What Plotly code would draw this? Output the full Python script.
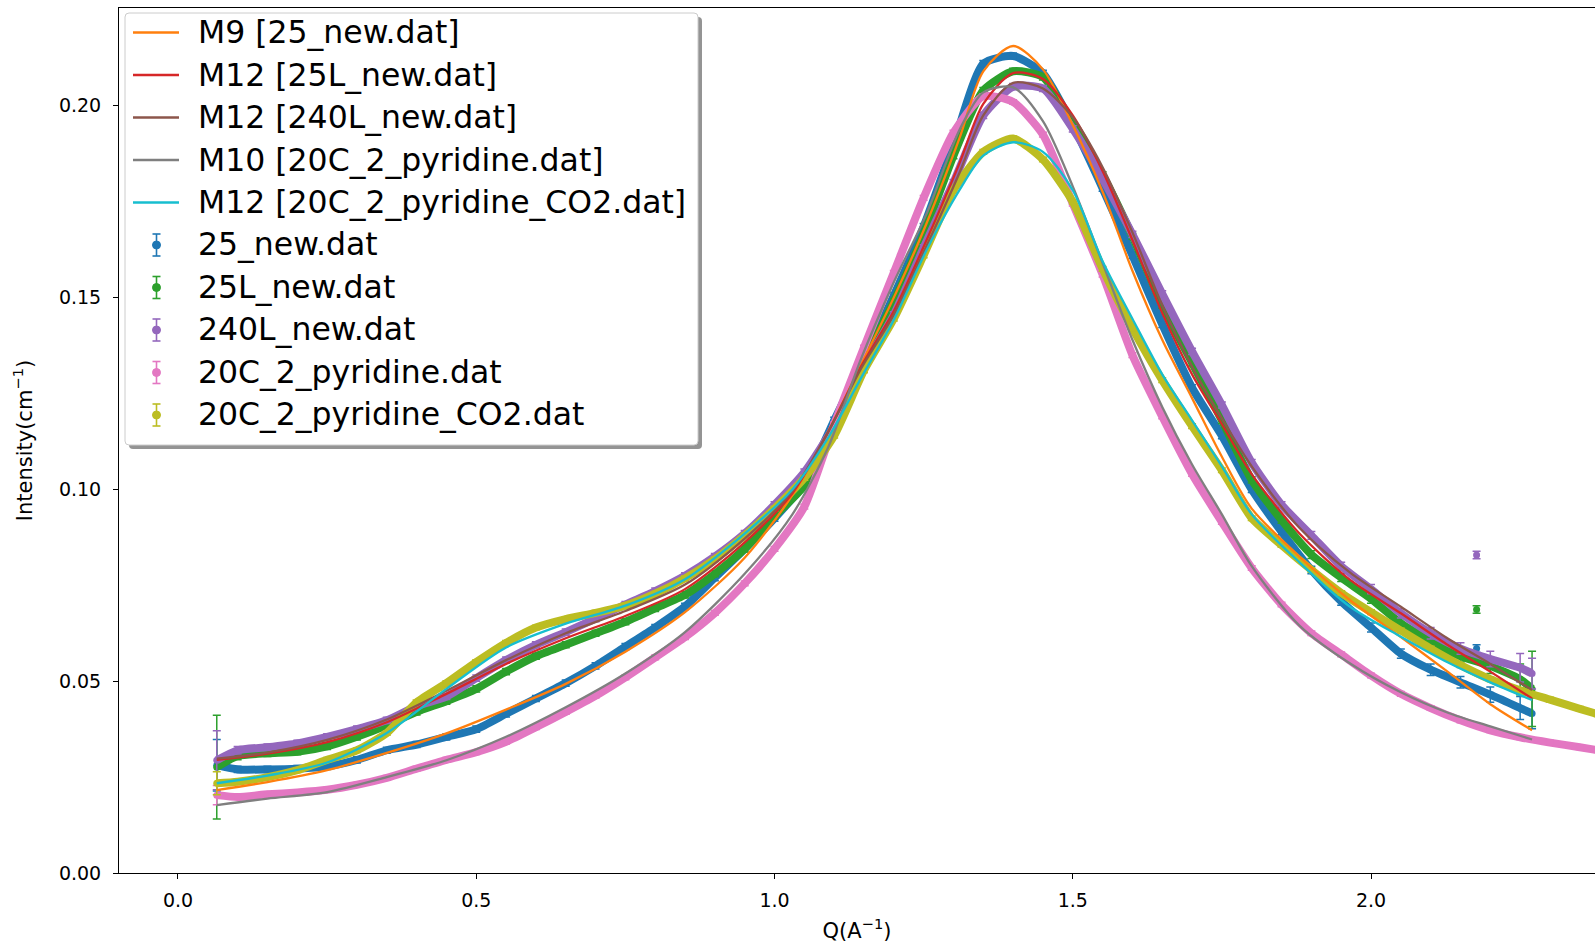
import plotly.graph_objects as go

# ---------------- data ----------------
Q_DATA = [0.065, 0.10, 0.15, 0.20, 0.25, 0.30, 0.35, 0.40, 0.45, 0.50,
          0.55, 0.60, 0.65, 0.70, 0.75, 0.80, 0.85, 0.90, 0.95, 1.00,
          1.05, 1.10, 1.15, 1.20, 1.25, 1.30, 1.35, 1.40, 1.45, 1.50,
          1.55, 1.60, 1.65, 1.70, 1.75, 1.80, 1.85, 1.90, 1.95, 2.00,
          2.05, 2.10, 2.15, 2.20, 2.25, 2.27]

Q_DATA_EXT = [0.065, 0.10, 0.15, 0.20, 0.25, 0.30, 0.35, 0.40, 0.45, 0.50,
              0.55, 0.60, 0.65, 0.70, 0.75, 0.80, 0.85, 0.90, 0.95, 1.00,
              1.05, 1.10, 1.15, 1.20, 1.25, 1.30, 1.35, 1.40, 1.45, 1.50,
              1.55, 1.60, 1.65, 1.70, 1.75, 1.80, 1.85, 1.90, 1.95, 2.00,
              2.05, 2.10, 2.15, 2.20, 2.25, 2.30, 2.35, 2.38]

I_25_NEW = [0.0281, 0.0270, 0.0270, 0.0272, 0.0278, 0.0295, 0.0320, 0.0335, 0.0355, 0.0375,
            0.0415, 0.0455, 0.0495, 0.0540, 0.0590, 0.0640, 0.0695, 0.0770, 0.0845, 0.0925,
            0.1015, 0.1180, 0.1340, 0.1505, 0.1685, 0.1900, 0.2110, 0.2130, 0.2085, 0.1950,
            0.1785, 0.1610, 0.1430, 0.1265, 0.1140, 0.1000, 0.0890, 0.0790, 0.0708, 0.0640,
            0.0572, 0.0530, 0.0497, 0.0465, 0.0430, 0.0416]
E_25_NEW = [0.0067, 0.0008, 0.0008, 0.0008, 0.0008, 0.0008, 0.0008, 0.0008, 0.0008, 0.0008,
            0.0008, 0.0008, 0.0008, 0.0008, 0.0008, 0.0008, 0.0008, 0.0008, 0.0008, 0.0008,
            0.0008, 0.0008, 0.0008, 0.0008, 0.0008, 0.0008, 0.0008, 0.0008, 0.0008, 0.0008,
            0.0008, 0.0008, 0.0008, 0.0008, 0.0008, 0.0008, 0.0008, 0.0010, 0.0010, 0.0012,
            0.0012, 0.0015, 0.0015, 0.0020, 0.0030, 0.0040]

I_25L_NEW = [0.0276, 0.0305, 0.0312, 0.0316, 0.0330, 0.0355, 0.0385, 0.0420, 0.0448, 0.0480,
             0.0525, 0.0565, 0.0595, 0.0625, 0.0655, 0.0690, 0.0725, 0.0780, 0.0845, 0.0930,
             0.1010, 0.1160, 0.1335, 0.1490, 0.1665, 0.1870, 0.2040, 0.2090, 0.2075, 0.1950,
             0.1820, 0.1660, 0.1480, 0.1330, 0.1180, 0.1025, 0.0920, 0.0830, 0.0770, 0.0715,
             0.0651, 0.0605, 0.0565, 0.0540, 0.0505, 0.0480]
E_25L_NEW = [0.0135, 0.0010, 0.0008, 0.0008, 0.0008, 0.0008, 0.0008, 0.0008, 0.0008, 0.0008,
             0.0008, 0.0008, 0.0008, 0.0008, 0.0008, 0.0008, 0.0008, 0.0008, 0.0008, 0.0008,
             0.0008, 0.0008, 0.0008, 0.0008, 0.0008, 0.0008, 0.0008, 0.0008, 0.0008, 0.0008,
             0.0008, 0.0008, 0.0008, 0.0008, 0.0008, 0.0008, 0.0008, 0.0010, 0.0010, 0.0012,
             0.0012, 0.0015, 0.0015, 0.0020, 0.0040, 0.0098]

I_240L_NEW = [0.0294, 0.0320, 0.0328, 0.0338, 0.0355, 0.0375, 0.0398, 0.0435, 0.0460, 0.0508,
              0.0555, 0.0595, 0.0628, 0.0663, 0.0700, 0.0735, 0.0775, 0.0825, 0.0885, 0.0960,
              0.1045, 0.1165, 0.1320, 0.1455, 0.1630, 0.1800, 0.1975, 0.2050, 0.2045, 0.1940,
              0.1810, 0.1665, 0.1510, 0.1360, 0.1220, 0.1070, 0.0960, 0.0880, 0.0800, 0.0740,
              0.0677, 0.0625, 0.0585, 0.0558, 0.0535, 0.0520]
E_240L_NEW = [0.0077, 0.0010, 0.0008, 0.0008, 0.0008, 0.0008, 0.0008, 0.0008, 0.0008, 0.0008,
              0.0008, 0.0008, 0.0008, 0.0008, 0.0008, 0.0008, 0.0008, 0.0008, 0.0008, 0.0008,
              0.0008, 0.0008, 0.0008, 0.0008, 0.0008, 0.0008, 0.0008, 0.0008, 0.0008, 0.0008,
              0.0008, 0.0008, 0.0008, 0.0008, 0.0008, 0.0008, 0.0008, 0.0010, 0.0010, 0.0012,
              0.0012, 0.0015, 0.0015, 0.0020, 0.0037, 0.0040]

I_20C_PYR = [0.0203, 0.0198, 0.0205, 0.0210, 0.0217, 0.0230, 0.0248, 0.0272, 0.0295, 0.0315,
             0.0342, 0.0380, 0.0420, 0.0462, 0.0510, 0.0562, 0.0615, 0.0678, 0.0755, 0.0845,
             0.0955, 0.1170, 0.1370, 0.1565, 0.1760, 0.1930, 0.2025, 0.2010, 0.1925, 0.1745,
             0.1560, 0.1350, 0.1190, 0.1040, 0.0915, 0.0795, 0.0700, 0.0625, 0.0570, 0.0515,
             0.0467, 0.0430, 0.0398, 0.0372, 0.0354, 0.0340, 0.0328, 0.0320]
E_20C_PYR = [0.0025, 0.0006, 0.0006, 0.0006, 0.0006, 0.0006, 0.0006, 0.0006, 0.0006, 0.0006,
             0.0006, 0.0006, 0.0006, 0.0006, 0.0006, 0.0006, 0.0006, 0.0006, 0.0006, 0.0006,
             0.0006, 0.0006, 0.0006, 0.0006, 0.0006, 0.0006, 0.0006, 0.0006, 0.0006, 0.0006,
             0.0006, 0.0006, 0.0006, 0.0006, 0.0006, 0.0006, 0.0006, 0.0006, 0.0006, 0.0006,
             0.0006, 0.0006, 0.0006, 0.0006, 0.0006, 0.0006, 0.0006, 0.0006]

I_20C_PYR_CO2 = [0.0234, 0.0238, 0.0250, 0.0268, 0.0295, 0.0320, 0.0365, 0.0445, 0.0495, 0.0550,
                 0.0600, 0.0640, 0.0662, 0.0678, 0.0697, 0.0728, 0.0768, 0.0818, 0.0880, 0.0950,
                 0.1030, 0.1140, 0.1310, 0.1445, 0.1610, 0.1780, 0.1880, 0.1915, 0.1860, 0.1750,
                 0.1575, 0.1420, 0.1285, 0.1165, 0.1050, 0.0925, 0.0855, 0.0790, 0.0730, 0.0680,
                 0.0632, 0.0585, 0.0542, 0.0505, 0.0476, 0.0452, 0.0428, 0.0414]
E_20C_PYR_CO2 = [0.0030, 0.0006, 0.0006, 0.0006, 0.0006, 0.0006, 0.0006, 0.0006, 0.0006, 0.0006,
                 0.0006, 0.0006, 0.0006, 0.0006, 0.0006, 0.0006, 0.0006, 0.0006, 0.0006, 0.0006,
                 0.0006, 0.0006, 0.0006, 0.0006, 0.0006, 0.0006, 0.0006, 0.0006, 0.0006, 0.0006,
                 0.0006, 0.0006, 0.0006, 0.0006, 0.0006, 0.0006, 0.0006, 0.0006, 0.0006, 0.0006,
                 0.0006, 0.0006, 0.0006, 0.0006, 0.0006, 0.0006, 0.0006, 0.0006]

# isolated points near Q = 2.18
Q_OUTLIER = [2.177]
OUT_25_NEW = [0.0585]
OUT_25L_NEW = [0.0687]
OUT_240L_NEW = [0.0829]
OUT_ERR = [0.0010]

# model fits
Q_FIT = [0.065, 0.15, 0.25, 0.35, 0.45, 0.55, 0.65, 0.75, 0.85, 0.95,
         1.03, 1.09, 1.145, 1.20, 1.255, 1.31, 1.35, 1.40, 1.45, 1.50,
         1.55, 1.60, 1.65, 1.70, 1.75, 1.80, 1.88, 1.965, 2.05, 2.13,
         2.20, 2.27]
FIT_M9_25 = [0.0216, 0.0237, 0.0268, 0.0313, 0.0364, 0.0426, 0.0493, 0.0577, 0.0680, 0.0822,
             0.0985, 0.1150, 0.1325, 0.1500, 0.1694, 0.1915, 0.2090, 0.2156, 0.2095, 0.1950,
             0.1776, 0.1570, 0.1390, 0.1238, 0.1085, 0.0950, 0.0825, 0.0711, 0.0615, 0.0523,
             0.0440, 0.0372]
FIT_M12_25L = [0.0295, 0.0311, 0.0341, 0.0393, 0.0467, 0.0545, 0.0612, 0.0670, 0.0740, 0.0862,
               0.0990, 0.1150, 0.1320, 0.1465, 0.1650, 0.1850, 0.2005, 0.2085, 0.2070, 0.1975,
               0.1830, 0.1650, 0.1460, 0.1300, 0.1170, 0.1040, 0.0885, 0.0764, 0.0677, 0.0593,
               0.0525, 0.0455]
FIT_M12_240L = [0.0298, 0.0314, 0.0347, 0.0400, 0.0475, 0.0555, 0.0625, 0.0683, 0.0752, 0.0872,
                0.0995, 0.1150, 0.1315, 0.1455, 0.1635, 0.1825, 0.1975, 0.2060, 0.2045, 0.1970,
                0.1840, 0.1670, 0.1480, 0.1320, 0.1185, 0.1060, 0.0900, 0.0783, 0.0694, 0.0610,
                0.0545, 0.0477]
FIT_M10_PYR = [0.0177, 0.0194, 0.0211, 0.0250, 0.0294, 0.0355, 0.0432, 0.0520, 0.0628, 0.0780,
               0.0935, 0.1110, 0.1340, 0.1540, 0.1719, 0.1937, 0.2035, 0.2048, 0.1960, 0.1790,
               0.1590, 0.1390, 0.1215, 0.1065, 0.0935, 0.0800, 0.0645, 0.0546, 0.0471, 0.0417,
               0.0382, 0.0348]
FIT_M12_CO2 = [0.0234, 0.0254, 0.0288, 0.0365, 0.0480, 0.0588, 0.0650, 0.0697, 0.0766, 0.0885,
               0.1000, 0.1135, 0.1290, 0.1442, 0.1624, 0.1780, 0.1870, 0.1905, 0.1880, 0.1780,
               0.1595, 0.1445, 0.1300, 0.1180, 0.1060, 0.0935, 0.0810, 0.0694, 0.0616, 0.0548,
               0.0497, 0.0451]

X_TICKS = [0.0, 0.5, 1.0, 1.5, 2.0]
X_TICK_TEXT = ["0.0", "0.5", "1.0", "1.5", "2.0"]
Y_TICKS = [0.00, 0.05, 0.10, 0.15, 0.20]
Y_TICK_TEXT = ["0.00", "0.05", "0.10", "0.15", "0.20"]

# ---------------- figure ----------------
FONT = "DejaVu Sans"
W, H = 1595, 946
ML, MT, MB, MR = 119, 8, 73, 0

data_series = [
    ("25_new.dat", Q_DATA, I_25_NEW, E_25_NEW, "#1f77b4", OUT_25_NEW),
    ("25L_new.dat", Q_DATA, I_25L_NEW, E_25L_NEW, "#2ca02c", OUT_25L_NEW),
    ("240L_new.dat", Q_DATA, I_240L_NEW, E_240L_NEW, "#9467bd", OUT_240L_NEW),
    ("20C_2_pyridine.dat", Q_DATA_EXT, I_20C_PYR, E_20C_PYR, "#e377c2", None),
    ("20C_2_pyridine_CO2.dat", Q_DATA_EXT, I_20C_PYR_CO2, E_20C_PYR_CO2, "#bcbd22", None),
]
fit_series = [
    ("M9 [25_new.dat]", FIT_M9_25, "#ff7f0e"),
    ("M12 [25L_new.dat]", FIT_M12_25L, "#d62728"),
    ("M12 [240L_new.dat]", FIT_M12_240L, "#8c564b"),
    ("M10 [20C_2_pyridine.dat]", FIT_M10_PYR, "#7f7f7f"),
    ("M12 [20C_2_pyridine_CO2.dat]", FIT_M12_CO2, "#17becf"),
]

fig = go.Figure()

for i, (name, qx, iy, err, col, out) in enumerate(data_series):
    # dense band of measured points
    fig.add_trace(go.Scatter(
        x=qx, y=iy, mode="lines",
        line=dict(color=col, width=8, shape="spline", smoothing=0.6),
        showlegend=False, hoverinfo="skip"))
    px = list(qx)
    py = list(iy)
    pe = list(err)
    if out is not None:
        px += Q_OUTLIER
        py += out
        pe += OUT_ERR
    fig.add_trace(go.Scatter(
        x=px, y=py, mode="markers", name=name, showlegend=False,
        marker=dict(color=col, size=7),
        error_y=dict(type="data", array=pe, color=col, thickness=1.5, width=4)))

for i, (name, fyv, col) in enumerate(fit_series):
    fig.add_trace(go.Scatter(
        x=Q_FIT, y=fyv, mode="lines", name=name, showlegend=False,
        line=dict(color=col, width=2.3, shape="spline", smoothing=0.8)))

pw = W - ML - MR
ph = H - MT - MB


def fx(v):
    return (v - ML) / pw


def fy(v):
    return 1 - (v - MT) / ph


# ---------- matplotlib-style legend (box, shadow, glyphs, labels) ----------
BX0, BX1, BY0, BY1, RAD = 125, 698, 13, 445, 4
SH = 4


def rounded_path(x0, y0, x1, y1, r):
    return ("M {a},{b} L {c},{b} Q {d},{b} {d},{e} L {d},{f} Q {d},{g} {c},{g} "
            "L {a},{g} Q {h},{g} {h},{f} L {h},{e} Q {h},{b} {a},{b} Z").format(
        a=fx(x0 + r), b=fy(y0), c=fx(x1 - r), d=fx(x1), e=fy(y0 + r),
        f=fy(y1 - r), g=fy(y1), h=fx(x0))


fig.add_shape(type="path", xref="paper", yref="paper", layer="above",
              path=rounded_path(BX0 + SH, BY0 + SH, BX1 + SH, BY1 + SH, RAD),
              fillcolor="rgba(0,0,0,0.42)", line=dict(width=0))
fig.add_shape(type="path", xref="paper", yref="paper", layer="above",
              path=rounded_path(BX0, BY0, BX1, BY1, RAD),
              fillcolor="white", line=dict(color="#cccccc", width=1))

ROW0, PITCH = 32.5, 42.5
GX0, GX1, GXC, TX = 133, 179, 156.5, 196
entries = [(n, c, "line") for (n, _, c) in fit_series] + \
          [(d[0], d[4], "err") for d in data_series]
annotations = []
for k, (label, col, kind) in enumerate(entries):
    yc = ROW0 + PITCH * k
    if kind == "line":
        fig.add_shape(type="line", xref="paper", yref="paper", layer="above",
                      x0=fx(GX0), x1=fx(GX1), y0=fy(yc), y1=fy(yc),
                      line=dict(color=col, width=2.3))
    else:
        fig.add_shape(type="line", xref="paper", yref="paper", layer="above",
                      x0=fx(GXC), x1=fx(GXC), y0=fy(yc - 11), y1=fy(yc + 11),
                      line=dict(color=col, width=1.6))
        for yy in (yc - 11, yc + 11):
            fig.add_shape(type="line", xref="paper", yref="paper", layer="above",
                          x0=fx(GXC - 4), x1=fx(GXC + 4), y0=fy(yy), y1=fy(yy),
                          line=dict(color=col, width=1.6))
        fig.add_shape(type="circle", xref="paper", yref="paper", layer="above",
                      x0=fx(GXC - 4), x1=fx(GXC + 4), y0=fy(yc + 4), y1=fy(yc - 4),
                      fillcolor=col, line=dict(color=col, width=1))
    annotations.append(dict(
        text=label, x=fx(TX), y=fy(yc), xref="paper", yref="paper",
        xanchor="left", yanchor="middle", showarrow=False,
        font=dict(family=FONT, size=31.5, color="black")))

fig.update_layout(
    width=W, height=H,
    margin=dict(l=ML, r=MR, t=MT, b=MB, pad=0),
    paper_bgcolor="white", plot_bgcolor="white",
    font=dict(family=FONT, color="black", size=19),
    showlegend=False,
    annotations=annotations,
    xaxis=dict(
        range=[-0.0989, 2.3755], tickvals=X_TICKS, ticktext=X_TICK_TEXT,
        ticks="outside", ticklen=5, tickwidth=1, tickcolor="black",
        showline=True, linecolor="black", linewidth=1, mirror=True,
        showgrid=False, zeroline=False,
        tickfont=dict(family=FONT, size=19, color="black"),
        ticklabelstandoff=5,
        title=dict(text="Q(A<sup>\u22121</sup>)", font=dict(family=FONT, size=21), standoff=13),
    ),
    yaxis=dict(
        range=[0, 0.2255], tickvals=Y_TICKS, ticktext=Y_TICK_TEXT,
        ticks="outside", ticklen=5, tickwidth=1, tickcolor="black",
        showline=True, linecolor="black", linewidth=1, mirror=False,
        showgrid=False, zeroline=False,
        tickfont=dict(family=FONT, size=19, color="black"),
        ticklabelstandoff=8,
        title=dict(text="Intensity(cm<sup>\u22121</sup>)", font=dict(family=FONT, size=21), standoff=20),
    ),
)

fig.write_html(
    "out.html",
    config={"displayModeBar": False},
    post_script="document.body.style.margin='0px';document.body.style.overflow='hidden';",
)
